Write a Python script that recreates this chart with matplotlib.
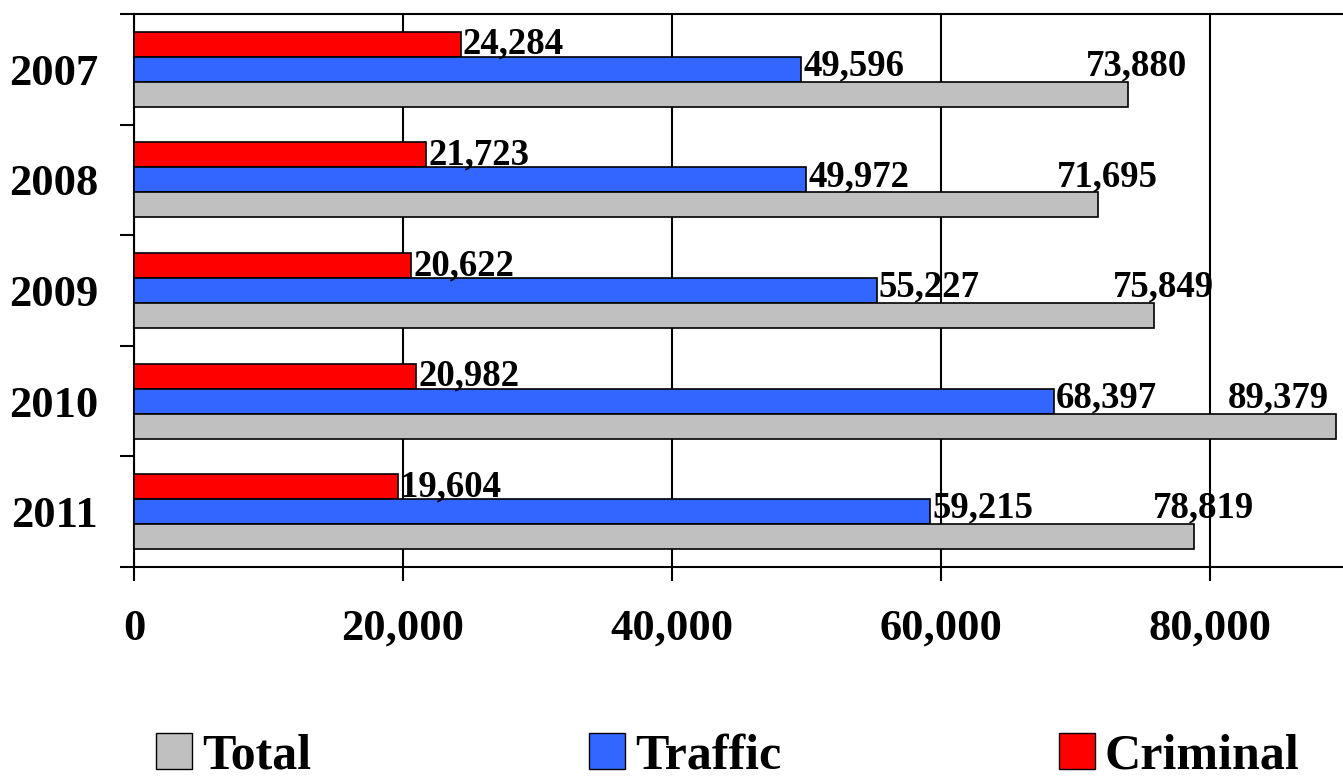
import matplotlib
matplotlib.use("Agg")
import matplotlib.pyplot as plt
from matplotlib.patches import Patch
import numpy as np

years = ["2007", "2008", "2009", "2010", "2011"]
total = [73880, 71695, 75849, 89379, 78819]
traffic = [49596, 49972, 55227, 68397, 59215]
criminal = [24284, 21723, 20622, 20982, 19604]

plt.rcParams["font.family"] = ["Liberation Serif", "DejaVu Serif"]
plt.rcParams["font.weight"] = "bold"

fig = plt.figure(figsize=(13.43, 7.77), dpi=100)
ax = fig.add_axes([0.0998, 0.2703, 0.9012, 0.7117])

y = np.arange(len(years))
h = 0.226
c_total, c_traffic, c_criminal = "#C0C0C0", "#3366FF", "#FF0000"

ax.barh(y - h, criminal, height=h, color=c_criminal, edgecolor="black", linewidth=1.2, zorder=3)
ax.barh(y, traffic, height=h, color=c_traffic, edgecolor="black", linewidth=1.2, zorder=3)
ax.barh(y + h, total, height=h, color=c_total, edgecolor="black", linewidth=1.2, zorder=3)

fs = 26.5
for i in range(len(years)):
    ax.text(criminal[i] + 150, y[i] - h, f"{criminal[i]:,}", ha="left", va="center",
            fontsize=fs, fontweight="bold", zorder=4)
    ax.text(traffic[i] + 150, y[i] - 0.03, f"{traffic[i]:,}", ha="left", va="center",
            fontsize=fs, fontweight="bold", zorder=4)
    if total[i] > 85000:
        ax.text(total[i] - 500, y[i] - 0.03, f"{total[i]:,}", ha="right", va="center",
                fontsize=fs, fontweight="bold", zorder=4)
    else:
        ax.text(total[i] + 700, y[i] - 0.03, f"{total[i]:,}", ha="center", va="center",
                fontsize=fs, fontweight="bold", zorder=4)

ax.set_xlim(0, 90000)
ax.set_ylim(len(years) - 0.5, -0.5)
ax.set_xticks([0, 20000, 40000, 60000, 80000])
ax.set_xticklabels(["0", "20,000", "40,000", "60,000", "80,000"])
ax.set_yticks(y)
ax.set_yticklabels(years)
ax.set_yticks(np.arange(-0.5, len(years)), minor=True)
ax.tick_params(axis="y", which="major", length=0, pad=26, labelsize=32)
ax.tick_params(axis="y", which="minor", length=10, width=1.5, direction="out")
ax.tick_params(axis="x", length=10, width=1.5, direction="out", pad=20, labelsize=32)
for lab in ax.get_xticklabels() + ax.get_yticklabels():
    lab.set_fontweight("bold")

ax.grid(axis="x", color="black", linewidth=1.5, zorder=0)
ax.spines["right"].set_visible(False)
for s in ["left", "bottom", "top"]:
    ax.spines[s].set_linewidth(1.5)

handles = [Patch(facecolor=c_total, edgecolor="black", label="Total"),
           Patch(facecolor=c_traffic, edgecolor="black", label="Traffic"),
           Patch(facecolor=c_criminal, edgecolor="black", label="Criminal")]
fig.legend(handles=handles, loc="center", bbox_to_anchor=(0.542, 0.027), ncol=3,
           frameon=False, prop={"size": 36, "weight": "bold"},
           handlelength=0.72, handleheight=0.72, handletextpad=0.2, columnspacing=5.55)

fig.savefig("out.png", dpi=100)
